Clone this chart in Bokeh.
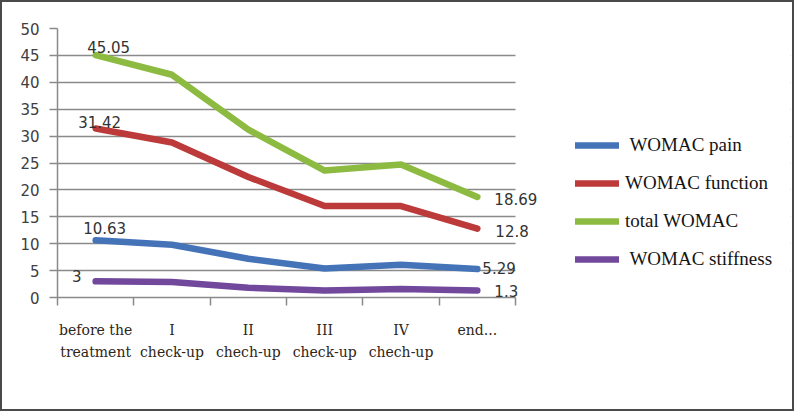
from bokeh.plotting import figure
from bokeh.models import Range1d, FixedTicker, Legend, LegendItem, BoxAnnotation
from bokeh.core.properties import value
from bokeh.embed import file_html
from bokeh.resources import INLINE

categories = ["before the\ntreatment", "I\ncheck-up", "II\nchech-up", "III\ncheck-up", "IV\nchech-up", "end..."]
womac_pain = [10.63, 9.8, 7.2, 5.4, 6.1, 5.29]
womac_function = [31.42, 28.8, 22.4, 17.0, 17.0, 12.8]
total_womac = [45.05, 41.4, 31.2, 23.6, 24.7, 18.69]
womac_stiffness = [3, 2.9, 1.8, 1.3, 1.6, 1.3]
series_names = [" WOMAC pain", "WOMAC function", "total WOMAC", " WOMAC stiffness"]
y_ticks = [0, 5, 10, 15, 20, 25, 30, 35, 40, 45, 50]

colors = ["#4473b8", "#bd3a3b", "#8dbb42", "#71489b"]
series = [womac_pain, womac_function, total_womac, womac_stiffness]
# label placement (style): (first dx, first dy, last dx, last dy)
label_offsets = [(9, -6, 5, -1), (4, 0, 18, 2), (13, -2, 17, 2), (-19, 1, 17, 0)]

n = len(categories)
xs = [i + 0.5 for i in range(n)]

# layout in pixels
W, H = 794, 411
frame_left, frame_right, frame_top, frame_bottom = 55, 788, 26, 295
plot_px = 458  # width of the category area
x_end = n * (frame_right - frame_left) / plot_px

p = figure(width=W, height=H, output_backend="svg", toolbar_location=None,
           x_range=Range1d(0, x_end), y_range=Range1d(0, 50),
           min_border_left=frame_left, min_border_right=W - frame_right,
           min_border_top=frame_top, min_border_bottom=H - frame_bottom)
p.styles = {"border": "2px solid #4a4a4a"}
p.outline_line_color = None
p.background_fill_color = "white"
p.border_fill_color = "white"

# y axis
p.yaxis.ticker = FixedTicker(ticks=y_ticks)
p.yaxis.axis_line_color = "#8a8a8a"
p.yaxis.axis_line_width = 1.5
p.yaxis.major_tick_line_color = "#8a8a8a"
p.yaxis.major_tick_line_width = 1.5
p.yaxis.major_tick_out = 8
p.yaxis.major_tick_in = 0
p.yaxis.minor_tick_line_color = None
p.yaxis.major_label_text_font = "DejaVu Sans"
p.yaxis.major_label_text_font_size = "15px"
p.yaxis.major_label_text_color = "#404040"
p.yaxis.major_label_standoff = 10
p.ygrid.grid_line_color = "#8a8a8a"
p.ygrid.grid_line_width = 1.5
p.xgrid.grid_line_color = None

# x axis
p.xaxis.bounds = (0, n)
p.xaxis.ticker = FixedTicker(ticks=xs, minor_ticks=list(range(n + 1)))
p.xaxis.major_label_overrides = {x: c for x, c in zip(xs, categories)}
p.xaxis.axis_line_color = "#8a8a8a"
p.xaxis.axis_line_width = 1.5
p.xaxis.major_tick_line_color = None
p.xaxis.minor_tick_line_color = "#8a8a8a"
p.xaxis.minor_tick_line_width = 1.5
p.xaxis.minor_tick_out = 8
p.xaxis.minor_tick_in = 0
p.xaxis.major_label_text_font = "DejaVu Serif"
p.xaxis.major_label_text_font_size = "14px"
p.xaxis.major_label_text_color = "#2e2618"
p.xaxis.major_label_text_line_height = 1.4
p.xaxis.major_label_standoff = 16

# blank area right of the category region (hides the gridlines there)
p.add_layout(BoxAnnotation(left=n, fill_color="white", fill_alpha=1.0, line_color=None))

items = []
for name, vals, col, off in zip(series_names, series, colors, label_offsets):
    r = p.line(xs, vals, line_color=col, line_width=6.5, line_cap="round", line_join="round")
    items.append(LegendItem(label=name, renderers=[r]))
    p.text([xs[0]], [vals[0]], text=[f"{vals[0]:g}"], x_offset=off[0], y_offset=off[1],
           text_align="center", text_baseline="bottom", text_font=value("DejaVu Sans"),
           text_font_size="15px", text_color="#333333", level="overlay")
    p.text([xs[-1]], [vals[-1]], text=[f"{vals[-1]:g}"], x_offset=off[2], y_offset=off[3],
           text_align="left", text_baseline="middle", text_font=value("DejaVu Sans"),
           text_font_size="15px", text_color="#333333", level="overlay")

legend = Legend(items=items, location=(518, 27), orientation="vertical",
                glyph_width=44, glyph_height=20, label_height=20, spacing=16,
                label_standoff=6, padding=0, margin=0,
                border_line_color=None, background_fill_alpha=0,
                label_text_font="Liberation Serif", label_text_font_size="19px",
                label_text_color="#141414")
p.add_layout(legend, "center")

open("out.html", "w").write(file_html(p, INLINE))
